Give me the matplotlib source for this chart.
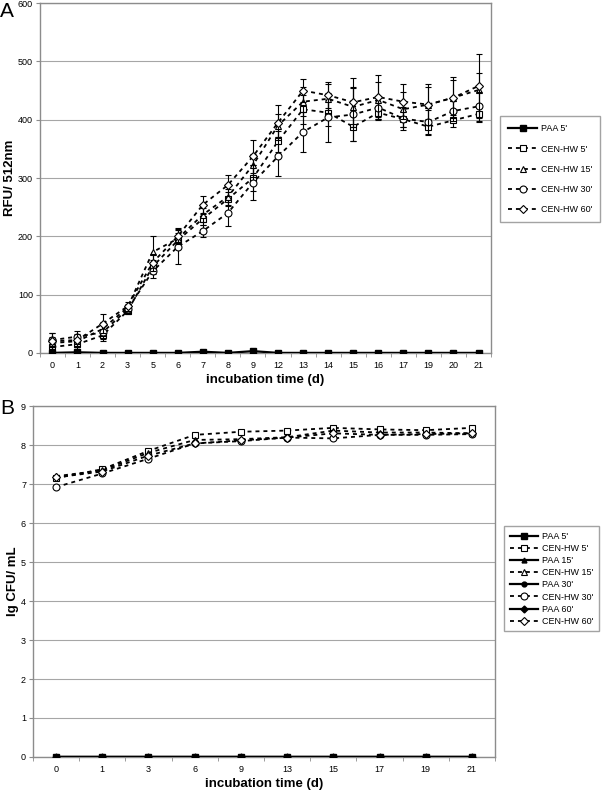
import numpy as np
import matplotlib
matplotlib.use("Agg")
import matplotlib.pyplot as plt
from matplotlib.ticker import FixedLocator

plt.rcParams["font.family"] = ["Liberation Sans", "DejaVu Sans"]

# ---- panel A: fluorescence ----
days_a = ["0", "1", "2", "3", "5", "6", "7", "8", "9", "12", "13", "14", "15", "16", "17", "19", "20", "21"]
paa5_a = [0, 1, 0, 0, 0, 0, 2, 0, 3, 0, 0, 0, 0, 0, 0, 0, 0, 0]
cen5_a = [10, 15, 30, 72, 148, 193, 230, 264, 300, 363, 418, 412, 388, 412, 401, 388, 399, 410]
cen15_a = [17, 20, 41, 78, 173, 196, 237, 268, 322, 390, 431, 436, 422, 434, 418, 426, 438, 451]
cen30_a = [22, 28, 35, 75, 140, 182, 209, 240, 292, 337, 379, 404, 409, 421, 402, 396, 415, 423]
cen60_a = [20, 22, 50, 80, 155, 200, 254, 288, 337, 395, 450, 442, 430, 439, 431, 426, 438, 458]
err5_a = [8, 8, 10, 6, 12, 12, 10, 12, 22, 18, 25, 22, 25, 12, 14, 14, 12, 14]
err15_a = [10, 10, 12, 6, 28, 14, 12, 14, 20, 20, 25, 25, 35, 30, 30, 30, 30, 30]
err30_a = [12, 10, 12, 6, 12, 30, 10, 22, 30, 33, 35, 42, 45, 20, 20, 20, 18, 25]
err60_a = [14, 10, 16, 8, 15, 14, 16, 18, 28, 30, 20, 22, 42, 38, 30, 35, 35, 55]

# ---- panel B: viable counts ----
days_b = ["0", "1", "3", "6", "9", "13", "15", "17", "19", "21"]
paa_b = [0, 0, 0, 0, 0, 0, 0, 0, 0, 0]
cen5_b = [7.15, 7.38, 7.85, 8.26, 8.34, 8.37, 8.44, 8.40, 8.38, 8.44]
cen15_b = [7.20, 7.35, 7.80, 8.13, 8.15, 8.20, 8.37, 8.32, 8.32, 8.30]
cen30_b = [6.92, 7.27, 7.65, 8.04, 8.10, 8.19, 8.17, 8.26, 8.26, 8.28]
cen60_b = [7.17, 7.32, 7.73, 8.04, 8.12, 8.19, 8.30, 8.26, 8.28, 8.30]

GRAY = "#8c8c8c"
DASH = (0, (2.2, 2.2))

fig = plt.figure(figsize=(6.04, 7.93), dpi=100)
axA = fig.add_axes([0.066, 0.555, 0.747, 0.441])
axB = fig.add_axes([0.0546, 0.0454, 0.765, 0.4426])


def style(ax, n, ymax, ystep):
    ax.set_xlim(-0.5, n - 0.5)
    ax.set_ylim(0, ymax)
    ax.set_yticks(np.arange(0, ymax + ystep / 2, ystep))
    ax.xaxis.set_minor_locator(FixedLocator(np.arange(n + 1) - 0.5))
    ax.tick_params(axis="x", which="major", length=0, labelsize=6.5, pad=6)
    ax.tick_params(axis="x", which="minor", length=3, color=GRAY, direction="out")
    ax.tick_params(axis="y", length=3, color=GRAY, labelsize=6.5, pad=2)
    ax.grid(axis="y", color="#a6a6a6", lw=0.8)
    ax.set_axisbelow(True)
    for side in ["top", "right", "left", "bottom"]:
        ax.spines[side].set_color(GRAY)
        ax.spines[side].set_linewidth(1.0)
    ax.set_xlabel("incubation time (d)", fontsize=9.5, fontweight="bold")


cen_kw = dict(color="black", lw=1.3, ls=DASH, markersize=5, markerfacecolor="white",
              markeredgecolor="black", markeredgewidth=0.8)

# panel A
xa = np.arange(len(days_a))
axA.plot(xa, paa5_a, color="black", lw=1.6, marker="s", markersize=5, label="PAA 5'", zorder=5)
for y, e, m, lab in [(cen5_a, err5_a, "s", "CEN-HW 5'"), (cen15_a, err15_a, "^", "CEN-HW 15'"),
                     (cen30_a, err30_a, "o", "CEN-HW 30'"), (cen60_a, err60_a, "D", "CEN-HW 60'")]:
    axA.errorbar(xa, y, yerr=e, fmt="none", ecolor="black", elinewidth=0.8, capsize=2.2, capthick=0.8)
    ms = 4.2 if m == "D" else 5
    axA.plot(xa, y, marker=m, label=lab, **{**cen_kw, "markersize": ms})
style(axA, len(days_a), 600, 100)
axA.set_xticks(xa)
axA.set_xticklabels(days_a)
axA.xaxis.labelpad = 3
axA.set_ylabel("RFU/ 512nm", fontsize=9.5, fontweight="bold")
axA.yaxis.set_label_coords(-0.052, 0.5)
axA.legend(loc="upper left", bbox_to_anchor=(1.01, 0.69), fontsize=6.5, frameon=True, fancybox=False,
           edgecolor=GRAY, handlelength=3.2, labelspacing=1.25, borderpad=0.9, handletextpad=0.4)
fig.text(0.0, 0.997, "A", fontsize=15, va="top", ha="left")

# panel B
xb = np.arange(len(days_b))
series_b = [("PAA 5'", paa_b, "s", True), ("CEN-HW 5'", cen5_b, "s", False),
            ("PAA 15'", paa_b, "^", True), ("CEN-HW 15'", cen15_b, "^", False),
            ("PAA 30'", paa_b, "o", True), ("CEN-HW 30'", cen30_b, "o", False),
            ("PAA 60'", paa_b, "D", True), ("CEN-HW 60'", cen60_b, "D", False)]
for lab, y, m, solid in series_b:
    ms = 4.2 if m == "D" else 5
    if solid:
        # PAA 5' drawn on top, the others hidden underneath it
        z = 6 if lab == "PAA 5'" else 4
        ms = ms if lab == "PAA 5'" else 3.5
        axB.plot(xb, y, color="black", lw=1.6, marker=m, markersize=ms, label=lab, zorder=z)
    else:
        axB.plot(xb, y, marker=m, label=lab, **{**cen_kw, "markersize": ms})
style(axB, len(days_b), 9, 1)
axB.set_xticks(xb)
axB.set_xticklabels(days_b)
axB.xaxis.labelpad = 3
axB.set_ylabel("lg CFU/ mL", fontsize=9.5, fontweight="bold")
axB.yaxis.set_label_coords(-0.03, 0.5)
axB.legend(loc="upper left", bbox_to_anchor=(1.01, 0.67), fontsize=6.5, frameon=True, fancybox=False,
           edgecolor=GRAY, handlelength=3.2, labelspacing=0.35, borderpad=0.6, handletextpad=0.4)
fig.text(0.0, 0.497, "B", fontsize=15, va="top", ha="left")

fig.savefig("out.png", dpi=100)
